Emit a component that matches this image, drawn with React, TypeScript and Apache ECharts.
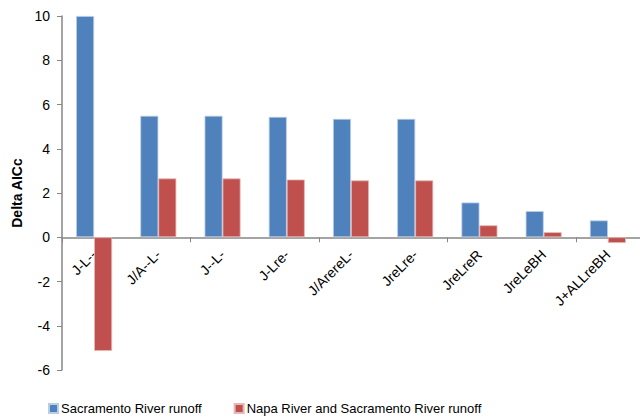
import React, { useEffect, useRef } from "react";
import * as echarts from "echarts";

const categories = ["J-L--", "J/A--L-", "J--L-", "J-Lre-", "J/ArereL-", "JreLre-", "JreLreR", "JreLeBH", "J+ALLreBH"];
const sacramento = [10, 5.49, 5.49, 5.44, 5.35, 5.35, 1.57, 1.18, 0.76];
const napaSacramento = [-5.14, 2.66, 2.66, 2.61, 2.57, 2.57, 0.54, 0.23, -0.26];
const seriesNames = ["Sacramento River runoff", "Napa River and Sacramento River runoff"];
const yTicks = { min: -6, max: 10, interval: 2 };

export default function App() {
  const ref = useRef<HTMLDivElement>(null);
  useEffect(() => {
    if (!ref.current) return;
    const chart = echarts.init(ref.current, undefined, { renderer: "svg" });
    const font = "'Liberation Sans', Arial, sans-serif";
    const gridTop = 16;
    const gridBottom = 50;
    const plotH = 420 - gridTop - gridBottom;
    const zeroOffset = -(plotH * (0 - yTicks.min)) / (yTicks.max - yTicks.min);
    chart.setOption({
      animation: false,
      textStyle: { fontFamily: font },
      grid: { left: 62, right: 0, top: gridTop, bottom: gridBottom, containLabel: false },
      legend: {
        left: 43,
        top: 397,
        itemWidth: 9,
        itemHeight: 9,
        itemGap: 32,
        icon: "rect",
        textStyle: { fontSize: 13, color: "#000", fontFamily: font, padding: [0, 0, 0, -2] },
        data: seriesNames,
      },
      xAxis: [
        {
          type: "category",
          data: categories,
          axisLine: { onZero: true, lineStyle: { color: "#868686", width: 1.5 } },
          axisTick: { show: true, length: 5, lineStyle: { color: "#868686" } },
          axisLabel: { show: false },
          splitLine: { show: false },
        },
        {
          type: "category",
          data: categories,
          position: "bottom",
          offset: zeroOffset,
          axisLine: { show: false, onZero: false },
          axisTick: { show: false },
          axisLabel: { rotate: 45, fontSize: 14, color: "#000", margin: 15, interval: 0, fontFamily: font },
          splitLine: { show: false },
        },
      ],
      yAxis: {
        type: "value",
        min: yTicks.min,
        max: yTicks.max,
        interval: yTicks.interval,
        name: "Delta AICc",
        nameLocation: "middle",
        nameGap: 38,
        nameRotate: 90,
        nameTextStyle: { fontSize: 14, fontWeight: "bold", color: "#000", fontFamily: font },
        axisLine: { show: true, lineStyle: { color: "#868686", width: 1.5 } },
        axisTick: { show: true, length: 5, lineStyle: { color: "#868686" } },
        axisLabel: { fontSize: 14, color: "#000", margin: 12, fontFamily: font },
        splitLine: { show: false },
      },
      series: [
        {
          name: seriesNames[0],
          type: "bar",
          xAxisIndex: 0,
          data: sacramento,
          barWidth: 18,
          barGap: "0%",
          itemStyle: { color: "#4F81BD", borderColor: "#B9CDE5", borderWidth: 0.8 },
        },
        {
          name: seriesNames[1],
          type: "bar",
          xAxisIndex: 0,
          data: napaSacramento,
          barWidth: 18,
          barGap: "0%",
          itemStyle: { color: "#C0504D", borderColor: "#E6B9B8", borderWidth: 0.8 },
        },
      ],
    });
    return () => chart.dispose();
  }, []);
  return <div ref={ref} style={{ width: 640, height: 420, position: "absolute", left: 0, top: 0, background: "#fff" }} />;
}
